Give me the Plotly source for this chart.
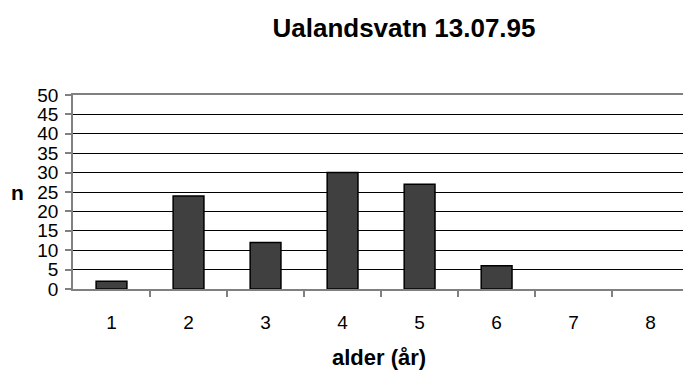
import plotly.graph_objects as go

# Age distribution (number of fish per age class)
ages = [1, 2, 3, 4, 5, 6, 7, 8]
counts = [2, 24, 12, 30, 27, 6, 0, 0]
y_ticks = [0, 5, 10, 15, 20, 25, 30, 35, 40, 45, 50]

title_text = "Ualandsvatn 13.07.95"
x_title = "alder (år)"
y_title = "n"

FONT = "Liberation Sans, Arial, sans-serif"
AXIS_GREY = "#808080"

# empty age classes get no outline so nothing is drawn for them
outline_widths = [1.5 if c > 0 else 0 for c in counts]

fig = go.Figure()
fig.add_trace(go.Bar(
    x=ages,
    y=counts,
    width=0.4,
    marker=dict(color="#404040", line=dict(color="#000000", width=outline_widths)),
))

fig.update_layout(
    width=683,
    height=378,
    margin=dict(l=73, r=0, t=95, b=89),
    paper_bgcolor="white",
    plot_bgcolor="white",
    showlegend=False,
    font=dict(family=FONT, color="#000000"),
    title=dict(
        text=f"<b>{title_text}</b>",
        x=404 / 683, xanchor="center",
        y=1 - 28 / 378, yanchor="middle",
        font=dict(family=FONT, size=26, color="#000000"),
    ),
    xaxis=dict(
        range=[0.5, 8.42],
        tickvals=ages,
        ticktext=[str(a) for a in ages],
        ticks="",
        tickfont=dict(size=19),
        ticklabelstandoff=15,
        showgrid=False,
        zeroline=False,
        showline=True,
        linecolor=AXIS_GREY,
        linewidth=1.5,
        mirror=True,
        minor=dict(
            tickvals=[a + 0.5 for a in ages[:-1]],
            ticks="outside",
            ticklen=6,
            tickcolor=AXIS_GREY,
            tickwidth=1.5,
            showgrid=False,
        ),
        fixedrange=True,
    ),
    yaxis=dict(
        range=[0, 50],
        tickvals=y_ticks,
        ticks="outside",
        ticklen=6,
        tickcolor=AXIS_GREY,
        tickwidth=1.5,
        tickfont=dict(size=19),
        ticklabelstandoff=3,
        showgrid=True,
        gridcolor="#000000",
        gridwidth=1,
        zeroline=False,
        showline=True,
        linecolor=AXIS_GREY,
        linewidth=1.5,
        fixedrange=True,
    ),
    annotations=[
        dict(
            text=f"<b>{y_title}</b>",
            xref="paper", yref="paper",
            x=(17 - 73) / 610, y=0.5,
            xanchor="center", yanchor="middle",
            showarrow=False,
            font=dict(family=FONT, size=21, color="#000000"),
        ),
        dict(
            text=f"<b>{x_title}</b>",
            xref="paper", yref="paper",
            x=(379 - 73) / 610, y=(289 - 357) / 194,
            xanchor="center", yanchor="middle",
            showarrow=False,
            font=dict(family=FONT, size=22, color="#000000"),
        ),
    ],
)

fig.write_html("out.html")
